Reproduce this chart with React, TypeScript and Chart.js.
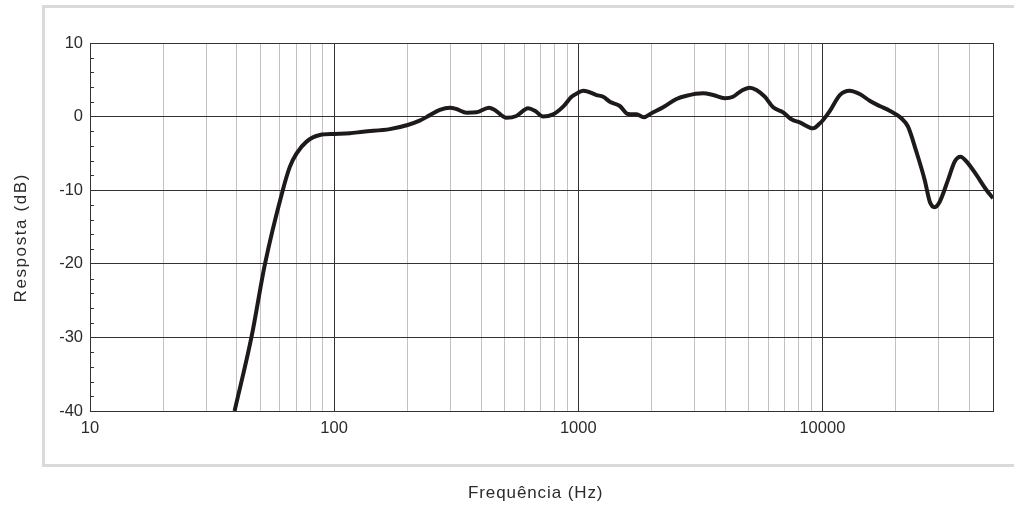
import React, { useEffect, useRef } from "react";
import { Chart, registerables } from "chart.js";

Chart.register(...registerables);

// Frequency response data
const freqHz = [
  39.1, 45.9, 52.1, 61.5, 65.9, 70.2, 77.1, 87.5, 100, 116,
  131.5, 169, 200, 224, 247, 271, 298, 317, 349, 383,
  431, 455, 508, 558, 623, 664, 718, 789, 867, 939,
  1000, 1047, 1098, 1188, 1265, 1347, 1480, 1600, 1733, 1856,
  1995, 2227, 2526, 2777, 3247, 3566, 3981, 4305, 4665, 5043,
  5370, 5808, 6285, 6905, 7468, 8080, 9162, 9750, 10070, 10720,
  11790, 12940, 14220, 15620, 17160, 18860, 21070, 22430, 24270, 26250,
  27540, 28840, 30250, 32720, 34860, 36770, 39520, 42760, 46990, 50000,
];
const responseDb = [
  -40, -29.9, -20, -10.1, -6.8, -5.0, -3.4, -2.5, -2.36, -2.27,
  -2.05, -1.7, -1.14, -0.55, 0.2, 0.9, 1.2, 1.03, 0.53, 0.58,
  1.2, 0.9, -0.15, 0.08, 1.13, 0.8, 0.0, 0.3, 1.35, 2.7,
  3.25, 3.52, 3.38, 2.93, 2.7, 2.02, 1.44, 0.35, 0.31, -0.1,
  0.45, 1.26, 2.39, 2.84, 3.17, 2.93, 2.49, 2.7, 3.52, 3.93,
  3.61, 2.7, 1.26, 0.58, -0.37, -0.78, -1.59, -0.95, -0.46, 0.75,
  2.93, 3.52, 3.07, 2.16, 1.44, 0.8, -0.23, -1.37, -4.77, -8.6,
  -11.56, -12.3, -11.56, -8.6, -6.1, -5.45, -6.35, -7.93, -9.97, -11.1,
];
const xTickLabels = ["10", "100", "1000", "10000"];
const xMin = 10;
const xMax = 50000;
const yMin = -40;
const yMax = 10;
const yMajorStep = 10;
const yMinorStep = 2;
const xTitle = "Frequência (Hz)";
const yTitle = "Resposta (dB)";

const FONT = "'Liberation Sans', Arial, Helvetica, sans-serif";
const TEXT = "#2b2b2b";
const DARK = "#333333";
const LIGHT = "#c2c2c2";

const isDecade = (v: number) => {
  const l = Math.log10(v);
  return Math.abs(l - Math.round(l)) < 1e-9;
};

const framePlugin = {
  id: "framePlugin",
  beforeDraw(chart: any) {
    const ctx = chart.ctx;
    ctx.save();
    ctx.strokeStyle = "#dadada";
    ctx.lineWidth = 3;
    ctx.strokeRect(43.5, 6.5, 1080, 459);
    ctx.restore();
  },
  beforeDatasetsDraw(chart: any) {
    const { ctx, chartArea: a, scales } = chart;
    ctx.save();
    ctx.strokeStyle = DARK;
    ctx.lineWidth = 1;
    ctx.beginPath();
    for (let v = yMin; v <= yMax; v += yMinorStep) {
      if (v % yMajorStep === 0) continue;
      const y = Math.round(scales.y.getPixelForValue(v)) + 0.5;
      ctx.moveTo(a.left, y);
      ctx.lineTo(a.left + 4, y);
    }
    ctx.stroke();
    ctx.strokeRect(
      Math.round(a.left) + 0.5,
      Math.round(a.top) + 0.5,
      Math.round(a.right - a.left),
      Math.round(a.bottom - a.top)
    );
    ctx.restore();
  },
  afterDraw(chart: any) {
    const ctx = chart.ctx;
    ctx.save();
    ctx.fillStyle = TEXT;
    ctx.font = `17px ${FONT}`;
    ctx.textBaseline = "alphabetic";
    ctx.textAlign = "left";
    (ctx as any).letterSpacing = "0.9px";
    ctx.fillText(xTitle, 468, 497.5);
    ctx.restore();

    ctx.save();
    ctx.fillStyle = TEXT;
    ctx.font = `17px ${FONT}`;
    ctx.textBaseline = "alphabetic";
    ctx.textAlign = "left";
    (ctx as any).letterSpacing = "1.6px";
    ctx.translate(25.5, 302.5);
    ctx.rotate(-Math.PI / 2);
    ctx.fillText(yTitle, 0, 0);
    ctx.restore();
  },
};

export default function App() {
  const canvasRef = useRef<HTMLCanvasElement | null>(null);

  useEffect(() => {
    if (!canvasRef.current) return;
    const points = freqHz.map((f, i) => ({ x: f, y: responseDb[i] }));
    const chart = new Chart(canvasRef.current, {
      type: "line",
      data: {
        datasets: [
          {
            data: points,
            borderColor: "#1e1a1a",
            borderWidth: 4,
            pointRadius: 0,
            fill: false,
            cubicInterpolationMode: "monotone",
          },
        ],
      },
      options: {
        animation: false,
        responsive: true,
        maintainAspectRatio: false,
        layout: { padding: { left: 0, right: 21, top: 43, bottom: 0 } },
        plugins: {
          legend: { display: false },
          tooltip: { enabled: false },
          title: { display: false },
        },
        scales: {
          x: {
            type: "logarithmic",
            min: xMin,
            max: xMax,
            afterBuildTicks: (scale: any) => {
              const ticks: { value: number }[] = [];
              for (let e = 1; e <= 4; e++) {
                for (let m = 1; m <= 9; m++) {
                  const v = m * Math.pow(10, e);
                  if (v <= xMax) ticks.push({ value: v });
                }
              }
              scale.ticks = ticks;
            },
            afterFit: (scale: any) => {
              scale.height = 95;
            },
            border: { display: false },
            grid: {
              drawTicks: false,
              color: (c: any) => (c.tick && isDecade(c.tick.value) ? DARK : LIGHT),
              lineWidth: 1,
            },
            ticks: {
              autoSkip: false,
              maxRotation: 0,
              padding: 8,
              color: TEXT,
              font: { family: FONT, size: 16.5 },
              callback: (value: any) => {
                const s = String(Math.round(Number(value)));
                return xTickLabels.includes(s) ? s : "";
              },
            },
          },
          y: {
            type: "linear",
            min: yMin,
            max: yMax,
            afterFit: (scale: any) => {
              scale.width = 90;
            },
            border: { display: false },
            grid: { drawTicks: false, color: DARK, lineWidth: 1 },
            ticks: {
              stepSize: yMajorStep,
              padding: 7,
              color: TEXT,
              font: { family: FONT, size: 16.5 },
            },
          },
        },
      },
      plugins: [framePlugin],
    });
    return () => chart.destroy();
  }, []);

  return (
    <div style={{ position: "fixed", left: 0, top: 0, width: 1014, height: 506, background: "#fff" }}>
      <canvas ref={canvasRef} />
    </div>
  );
}
